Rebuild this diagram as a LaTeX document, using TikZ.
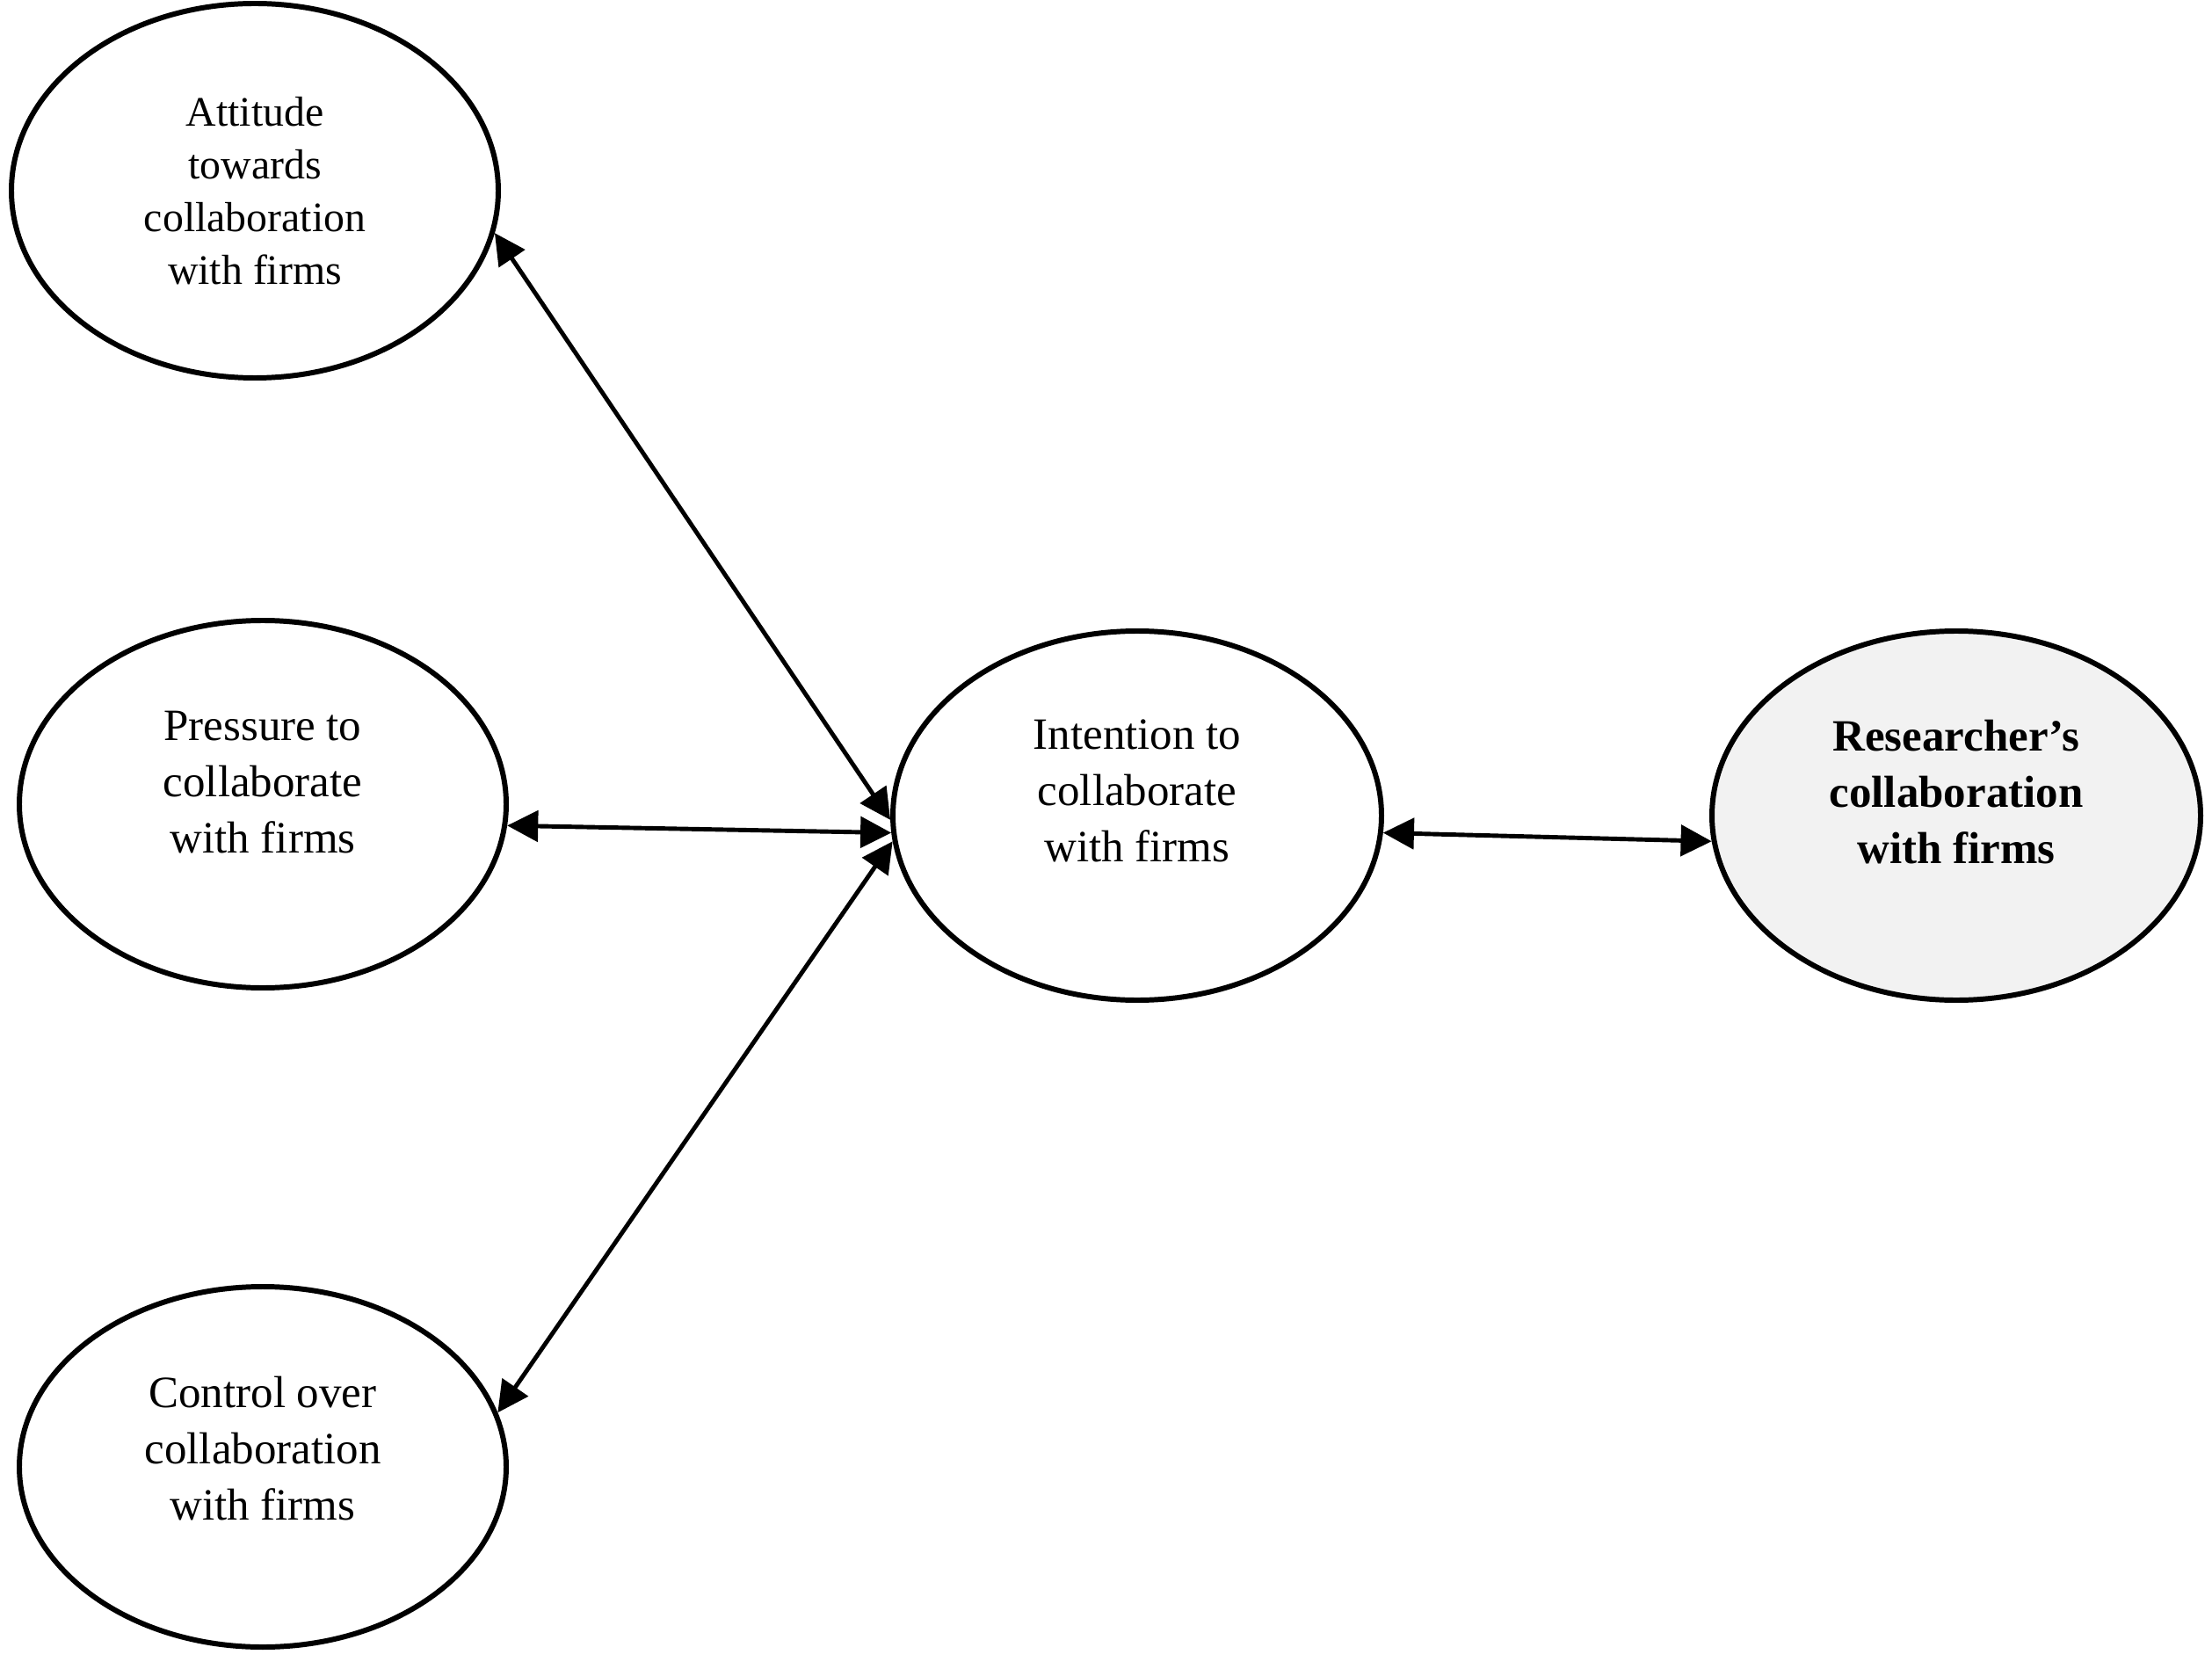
\documentclass[tikz,border=0pt]{standalone}
\usepackage{fontspec}
\setmainfont{Liberation Serif}
\usetikzlibrary{shapes.geometric,arrows.meta}
\begin{document}
\begin{tikzpicture}[
  ell/.style={ellipse, draw=black, line width=1.7pt, inner sep=0pt, fill=white},
  txt/.style={align=center, inner sep=0pt, font=\fontsize{14.5}{18.2}\selectfont},
  biarrow/.style={line width=1.4pt, {Triangle[length=10pt,width=10pt]}-{Triangle[length=10pt,width=10pt]}}
]
\useasboundingbox (0,0) rectangle (25.17,18.98);
% ellipses
\node[ell, minimum width=5.54cm, minimum height=4.26cm] (att) at (2.90,16.81) {};
\node[ell, minimum width=5.54cm, minimum height=4.18cm] (pre) at (2.99,9.83) {};
\node[ell, minimum width=5.54cm, minimum height=4.10cm] (con) at (2.99,2.29) {};
\node[ell, minimum width=5.56cm, minimum height=4.20cm] (int) at (12.94,9.70) {};
\node[ell, minimum width=5.56cm, minimum height=4.20cm, fill={rgb,255:red,242;green,242;blue,242}] (res) at (22.26,9.70) {};
% texts
\node[txt, font=\fontsize{13.6}{17.1}\selectfont] (attT) at (att.center) {Attitude\\towards\\collaboration\\with firms};
\node[txt] (preT) at ([yshift=0.25cm]pre.center) {Pressure to\\collaborate\\with firms};
\node[txt] (conT) at ([yshift=0.21cm]con.center) {Control over\\collaboration\\with firms};
\node[txt] (intT) at ([yshift=0.28cm]int.center) {Intention to\\collaborate\\with firms};
\node[txt, font=\fontsize{14.5}{18.2}\selectfont\bfseries] (resT) at ([yshift=0.27cm]res.center) {Researcher’s\\collaboration\\with firms};
% connectors
\draw[biarrow] (att.-10.4) -- (int.181.6);
\draw[biarrow] (pre.-5.9) -- (int.184.2);
\draw[biarrow] (con.13.2) -- (int.186.2);
\draw[biarrow] (int.-4.9) -- (res.186.7);
\end{tikzpicture}
\end{document}
